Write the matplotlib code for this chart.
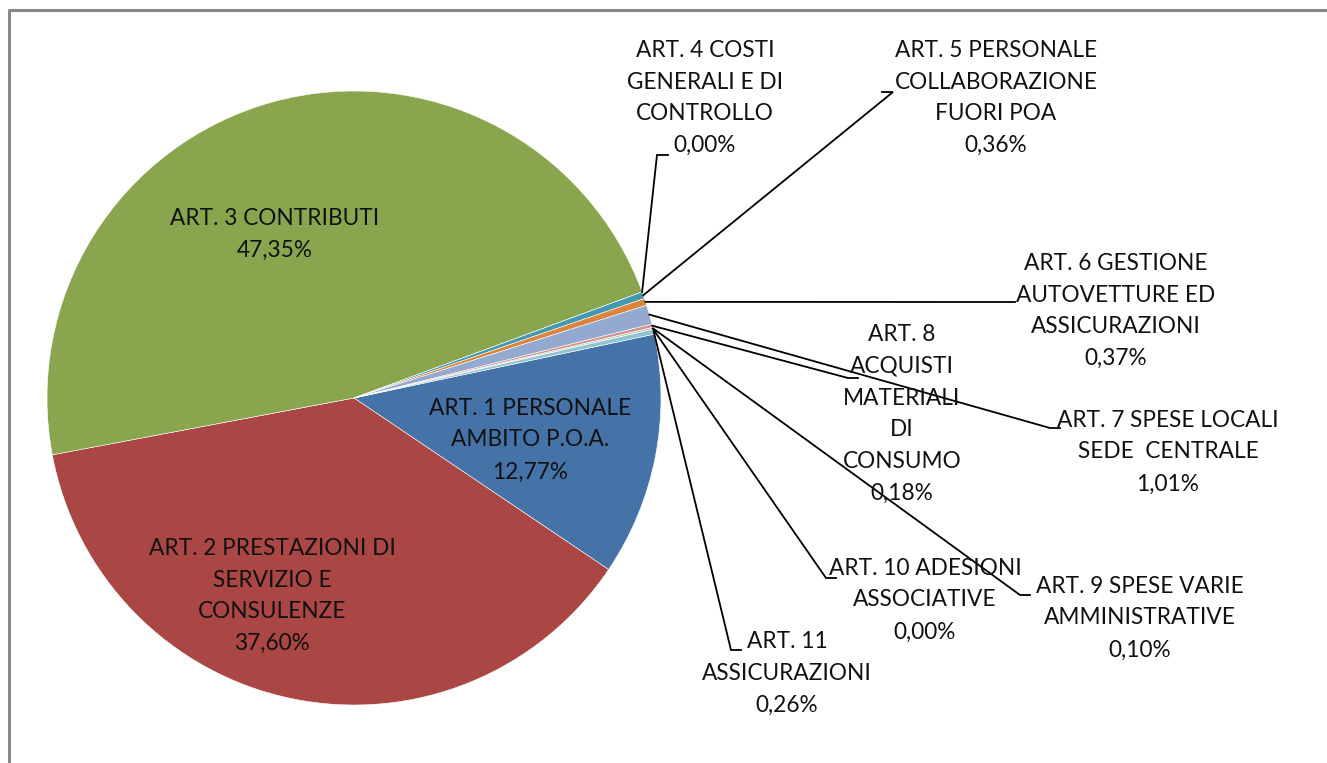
import matplotlib.pyplot as plt
import numpy as np

# --- data ---
categories = [
    "ART. 1 PERSONALE\nAMBITO P.O.A.",
    "ART. 2 PRESTAZIONI DI\nSERVIZIO E\nCONSULENZE",
    "ART. 3 CONTRIBUTI",
    "ART. 4 COSTI\nGENERALI E DI\nCONTROLLO",
    "ART. 5 PERSONALE\nCOLLABORAZIONE\nFUORI POA",
    "ART. 6 GESTIONE\nAUTOVETTURE ED\nASSICURAZIONI",
    "ART. 7 SPESE LOCALI\nSEDE  CENTRALE",
    "ART. 8\nACQUISTI\nMATERIALI\nDI\nCONSUMO",
    "ART. 9 SPESE VARIE\nAMMINISTRATIVE",
    "ART. 10 ADESIONI\nASSOCIATIVE",
    "ART. 11\nASSICURAZIONI",
]
percent = [12.77, 37.60, 47.35, 0.00, 0.36, 0.37, 1.01, 0.18, 0.10, 0.00, 0.26]
colors = ["#4572A7", "#AA4643", "#89A54E", "#71588F", "#4198AF", "#DB843D",
          "#93A9CF", "#D19392", "#B9CD96", "#A99BBD", "#91C3D5"]

# layout (pixel coords, y from top): label centre, leader elbow (None = no leader)
label_pos = [(530, 440), (272, 596), (275, 234), (705, 98), (996, 98),
             (1116, 311), (1168, 452), (902, 414), (1140, 618), (925, 600),
             (787, 673)]
elbows = [None, None, None, (657, 155, 668), (893, 92, 882),
          (1015, 302, 1015), (1050, 428, 1060), (848, 378, 858),
          (1020, 595, 1030), (826, 578, 836), (731, 650, 741)]

W, H = 1327, 763
cx, cy, R = 354, 398, 307

fig = plt.figure(figsize=(W / 100, H / 100), dpi=100)
ax = fig.add_axes([0, 0, 1, 1])

wedges, _ = ax.pie(percent, colors=colors, startangle=12, counterclock=False,
                   radius=R, center=(cx, H - cy), frame=True,
                   wedgeprops=dict(edgecolor="white", linewidth=0.4))
ax.set_xlim(0, W)
ax.set_ylim(0, H)
ax.set_aspect("equal")
ax.axis("off")

font = dict(family="Lato", fontsize=16.3, color="#111111", linespacing=1.64,
            ha="center", va="center")

for i, w in enumerate(wedges):
    txt = categories[i] + "\n" + f"{percent[i]:.2f}%".replace(".", ",")
    lx, ly = label_pos[i]
    ax.text(lx, H - ly, txt, **font)
    if elbows[i] is not None:
        ang = np.deg2rad((w.theta1 + w.theta2) / 2)
        sx = cx + R * np.cos(ang)
        sy = (H - cy) + R * np.sin(ang)
        ex, ey, hx = elbows[i]
        ax.plot([sx, ex, hx], [sy, H - ey, H - ey], color="black", lw=1.3,
                solid_joinstyle="miter")

# chart area border (left and top visible)
ax.plot([9, 9, W], [0, H - 10, H - 10], color="#888888", lw=2.2)

fig.savefig("out.png", dpi=100)
